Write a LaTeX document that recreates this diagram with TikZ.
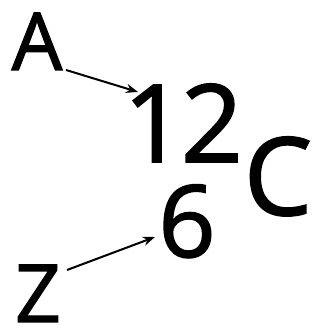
\documentclass[tikz,border=0pt]{standalone}
\usepackage{fontspec}
\setmainfont{Open Sans}[FakeBold=1.6,AutoFakeBold=1.6]
\usetikzlibrary{arrows.meta}
\begin{document}
\begin{tikzpicture}[x=1pt,y=1pt,
  big/.style={inner sep=0pt, text depth=0pt, font=\fontsize{108}{108}\selectfont},
  small/.style={inner sep=0pt, text depth=0pt, anchor=base, font=\fontsize{80}{80}\selectfont},
  arr/.style={line width=2pt, -{Stealth[length=12pt,width=9pt]}}]
\useasboundingbox (0,0) rectangle (320,328);
\node[small] (A) at (37,258) {A};
\node[big, anchor=base east] (n12) at (243,166) {1\kern-4pt 2};
\node[big, anchor=base] (C) at (278,113) {C};
\node[big, anchor=base, font=\fontsize{100}{100}\selectfont] (n6) at (187,71) {6};
\node[small] (Z) at (38,6) {Z};
\coordinate (a0) at (66,258);
\coordinate (a1) at (138,236);
\coordinate (z0) at (67,58);
\coordinate (z1) at (155,91);
\draw[arr] (a0) -- (a1);
\draw[arr] (z0) -- (z1);
\end{tikzpicture}
\end{document}
